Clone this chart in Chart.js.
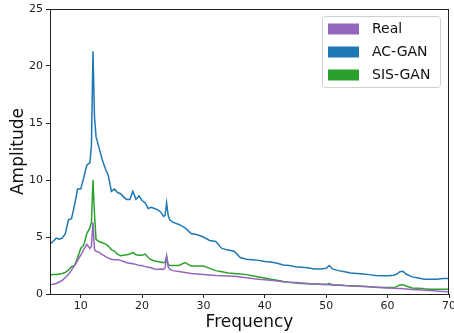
<!DOCTYPE html>
<html>
<head>
<meta charset="utf-8">
<script src="https://cdn.jsdelivr.net/npm/chart.js@4.4.0/dist/chart.umd.min.js"></script>
<style>
  html, body { margin: 0; padding: 0; background: #fff; }
  canvas { display: block; }
</style>
</head>
<body>
<canvas id="spectrum" width="454" height="333"></canvas>
<script>
// frequency grid shared by all series
const freqs = [5, 5.5, 6, 6.5, 7, 7.5, 8, 8.5, 9, 9.5, 10, 10.5, 11, 11.5, 11.75, 12, 12.25, 12.5, 13, 13.5,
    14, 14.5, 15, 15.5, 16, 16.5, 17, 17.5, 18, 18.5, 19, 19.5, 20, 20.5, 21, 21.5, 22, 22.5, 23, 23.5,
    23.75, 24, 24.25, 24.5, 25, 26, 27, 28, 29, 30, 31, 32, 33, 34, 35, 36, 37, 38, 39, 40,
    41, 42, 43, 44, 45, 46, 47, 48, 49, 50, 50.5, 51, 52, 53, 54, 55, 56, 57, 58, 59,
    60, 61, 61.5, 62, 62.5, 63, 64, 65, 66, 67, 68, 69, 70];

const realAmp = [0.8, 0.85, 0.92, 1.05, 1.2, 1.45, 1.7, 2.1, 2.5, 2.95, 3.4, 3.9, 4.35, 4.0, 4.2, 6.3, 3.9, 3.75, 3.65, 3.45,
    3.3, 3.15, 3.05, 3.0, 3.0, 2.95, 2.85, 2.75, 2.7, 2.65, 2.6, 2.5, 2.5, 2.4, 2.35, 2.3, 2.2, 2.15, 2.2, 2.15,
    2.3, 3.3, 2.4, 2.15, 2.05, 1.97, 1.88, 1.8, 1.75, 1.7, 1.66, 1.62, 1.6, 1.58, 1.55, 1.5, 1.42, 1.35, 1.3, 1.25,
    1.2, 1.14, 1.08, 1.04, 1.0, 0.96, 0.92, 0.88, 0.85, 0.83, 0.82, 0.8, 0.77, 0.74, 0.71, 0.69, 0.66, 0.63, 0.6, 0.56,
    0.53, 0.5, 0.49, 0.48, 0.46, 0.44, 0.4, 0.37, 0.33, 0.3, 0.26, 0.23, 0.2];

const acganAmp = [4.4, 4.6, 4.9, 4.8, 4.9, 5.3, 6.5, 6.6, 7.8, 9.2, 9.2, 10.2, 11.3, 11.5, 13.0, 21.3, 15.5, 13.8, 12.8, 11.8,
    11.0, 10.4, 9.0, 9.2, 8.9, 8.8, 8.5, 8.3, 8.3, 9.0, 8.3, 8.6, 8.2, 8.0, 7.5, 7.6, 7.5, 7.4, 7.2, 6.8,
    6.9, 8.0, 6.9, 6.5, 6.3, 6.1, 5.8, 5.3, 5.2, 5.0, 4.7, 4.6, 4.0, 3.85, 3.75, 3.2, 3.05, 3.0, 2.95, 2.85,
    2.8, 2.7, 2.55, 2.5, 2.4, 2.35, 2.3, 2.2, 2.2, 2.25, 2.5, 2.2, 2.05, 1.95, 1.85, 1.8, 1.75, 1.7, 1.62, 1.6,
    1.6, 1.65, 1.75, 1.95, 2.0, 1.75, 1.5, 1.4, 1.3, 1.3, 1.3, 1.35, 1.35];

const sisganAmp = [1.67, 1.7, 1.72, 1.75, 1.8, 1.9, 2.1, 2.4, 2.5, 3.2, 4.0, 4.3, 5.3, 5.8, 6.3, 10.0, 7.0, 4.8, 4.6, 4.5,
    4.4, 4.2, 3.9, 3.75, 3.5, 3.35, 3.4, 3.45, 3.5, 3.65, 3.45, 3.4, 3.4, 3.5, 3.2, 3.0, 2.9, 2.85, 2.8, 2.75,
    2.8, 3.3, 2.6, 2.5, 2.5, 2.5, 2.75, 2.45, 2.45, 2.45, 2.25, 2.05, 1.95, 1.85, 1.8, 1.75, 1.7, 1.6, 1.5, 1.4,
    1.3, 1.2, 1.1, 1.02, 0.97, 0.93, 0.9, 0.87, 0.85, 0.84, 0.92, 0.82, 0.78, 0.74, 0.72, 0.7, 0.68, 0.63, 0.6, 0.57,
    0.56, 0.56, 0.65, 0.8, 0.82, 0.7, 0.52, 0.5, 0.45, 0.42, 0.42, 0.42, 0.42];

const seriesNames = ['Real', 'AC-GAN', 'SIS-GAN'];
const seriesColors = ['#9467bd', '#1f77b4', '#2ca02c'];
const xTicks = [10, 20, 30, 40, 50, 60, 70];

const FONT = 'DejaVu Sans';
const toPoints = vals => freqs.map((f, i) => ({ x: f, y: vals[i] }));

// matplotlib-ish frame and boxed legend
const framePlugin = {
    id: 'frame',
    afterDraw(chart) {
        const { ctx, chartArea: a } = chart;
        ctx.save();
        ctx.strokeStyle = '#222';
        ctx.lineWidth = 1;
        ctx.strokeRect(a.left + 0.5, a.top + 0.5, a.right - a.left - 1, a.bottom - a.top);

        // legend
        const bx = a.right - 127, by = a.top + 7, bw = 118, bh = 71;
        ctx.fillStyle = 'rgba(255,255,255,0.85)';
        ctx.strokeStyle = '#d0d0d0';
        ctx.beginPath();
        ctx.roundRect(bx + 0.5, by + 0.5, bw, bh, 3);
        ctx.fill();
        ctx.stroke();
        ctx.font = '14px ' + FONT;
        ctx.textBaseline = 'middle';
        chart.data.datasets.forEach((ds, i) => {
            const cy = by + 13 + i * 23;
            ctx.fillStyle = ds.borderColor;
            ctx.fillRect(bx + 6, cy - 5.5, 31, 11);
            ctx.fillStyle = '#111';
            ctx.fillText(ds.label, bx + 50, cy + 0.5);
        });
        ctx.restore();
    }
};

new Chart(document.getElementById('spectrum').getContext('2d'), {
    type: 'line',
    data: {
        datasets: seriesNames.map((name, i) => ({
            label: name,
            data: toPoints([realAmp, acganAmp, sisganAmp][i]),
            borderColor: seriesColors[i],
            backgroundColor: seriesColors[i],
            borderWidth: 1.5,
            pointRadius: 0,
            tension: 0
        }))
    },
    options: {
        responsive: false,
        animation: false,
        layout: { padding: { left: 0, right: 5, top: 9, bottom: 0 } },
        plugins: {
            legend: { display: false },
            tooltip: { enabled: false }
        },
        scales: {
            x: {
                type: 'linear',
                min: 5,
                max: 70,
                afterBuildTicks: s => { s.ticks = xTicks.map(v => ({ value: v })); },
                afterFit: s => { s.height = 39; s.paddingLeft = 0; s.paddingRight = 0; },
                grid: { drawOnChartArea: false, drawTicks: true, tickLength: 4, color: '#222' },
                border: { display: true, color: '#222' },
                ticks: { color: '#222', font: { family: FONT, size: 11 }, padding: 2, maxRotation: 0 },
                title: { display: true, text: 'Frequency', color: '#111', font: { family: FONT, size: 17 }, padding: 0 }
            },
            y: {
                min: 0,
                max: 25,
                afterFit: s => { s.width = 50; s.paddingTop = 0; s.paddingBottom = 0; },
                grid: { drawOnChartArea: false, drawTicks: true, tickLength: 4, color: '#222' },
                border: { display: true, color: '#222' },
                ticks: { stepSize: 5, color: '#222', font: { family: FONT, size: 11 }, padding: 3 },
                title: { display: true, text: 'Amplitude', color: '#111', font: { family: FONT, size: 17 }, padding: 8 }
            }
        }
    },
    plugins: [framePlugin]
});
</script>
</body>
</html>
